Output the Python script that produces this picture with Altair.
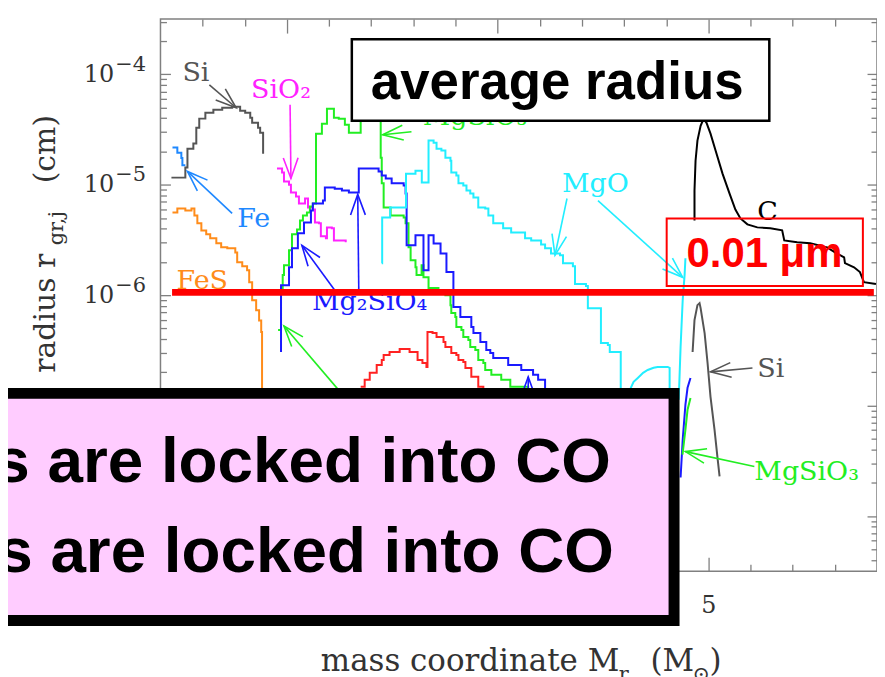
import math
import altair as alt
import pandas as pd

# ---------------- scale frame ----------------
X0, X1 = 2.4, 5.8
Y0, Y1 = 10 ** -8.5, 10 ** -3.5
W, H = 719, 554

GRAY, FEC, FESC, MAG = "#555555", "#1E88FF", "#FF8C1A", "#FF22FF"
GRN, BLU, CYA, RED, BLK = "#22EE22", "#1A1AFF", "#22EEFF", "#FF2222", "#000000"

# ---------------- step profiles (x: M_r [Msun], y: radius [cm]) ----------------
si_x = [2.452, 2.518, 2.528, 2.556, 2.570, 2.584, 2.613, 2.651, 2.693, 2.740, 2.778, 2.802, 2.826, 2.835, 2.863, 2.873, 2.887, 2.887]
si_y = [1.16e-5, 1.43e-5, 2.12e-5, 2.36e-5, 3.28e-5, 3.97e-5, 4.49e-5, 4.78e-5, 4.98e-5, 5.08e-5, 4.68e-5, 4.49e-5, 4.04e-5, 3.64e-5, 3.28e-5, 2.96e-5, 2.78e-5, 1.91e-5]

fe_x = [2.457, 2.480, 2.499, 2.504, 2.518]
fe_y = [2.17e-5, 1.95e-5, 1.75e-5, 1.50e-5, 1.50e-5]

fes_x = [2.457, 2.480, 2.518, 2.547, 2.561, 2.575, 2.594, 2.617, 2.636, 2.665, 2.688, 2.717, 2.755, 2.764, 2.788, 2.811, 2.821, 2.835, 2.854, 2.868, 2.878, 2.882, 2.882]
fes_y = [5.61e-6, 6.09e-6, 5.85e-6, 6.09e-6, 5.27e-6, 4.47e-6, 3.86e-6, 3.56e-6, 3.27e-6, 2.95e-6, 2.71e-6, 2.66e-6, 2.44e-6, 1.99e-6, 1.83e-6, 1.68e-6, 1.31e-6, 9.0e-7, 7.3e-7, 5.9e-7, 4.63e-7, 3.54e-7, 7.4e-8]

sio2_x = [2.953, 2.977, 2.986, 3.010, 3.019, 3.043, 3.057, 3.086, 3.100, 3.123, 3.133, 3.152, 3.161, 3.185, 3.190, 3.213, 3.223, 3.279]
sio2_y = [1.40e-5, 1.29e-5, 1.07e-5, 1.00e-5, 8.5e-6, 7.83e-6, 6.76e-6, 7.50e-6, 6.22e-6, 5.97e-6, 4.56e-6, 4.47e-6, 3.41e-6, 3.27e-6, 4.11e-6, 4.03e-6, 3.13e-6, 3.01e-6]

mgsio3_x = [2.958, 2.972, 2.980, 2.986, 3.010, 3.024, 3.048, 3.062, 3.076, 3.095, 3.109, 3.123, 3.138, 3.166, 3.190,
            3.223, 3.246, 3.275, 3.294, 3.350, 3.398, 3.445, 3.450, 3.459, 3.492, 3.554, 3.563, 3.577, 3.587, 3.610,
            3.615, 3.639, 3.648, 3.672, 3.719, 3.752, 3.776, 3.780, 3.799, 3.804, 3.828, 3.837, 3.861, 3.870, 3.894,
            3.908, 3.932, 3.941, 3.970, 4.017, 4.060, 4.145, 4.200]
mgsio3_y = [4.83e-7, 1.10e-6, 1.52e-6, 1.87e-6, 2.55e-6, 3.56e-6, 3.94e-6, 4.75e-6, 5.27e-6, 5.61e-6, 6.35e-6, 6.76e-6, 2.90e-5, 3.56e-5, 4.88e-5,
            4.04e-5, 3.96e-5, 3.49e-5, 2.96e-5, 5.3e-5, 5.75e-5, 1.76e-5, 1.03e-5, 6.22e-6, 5.27e-6, 5.06e-6, 4.47e-6, 2.71e-6, 2.07e-6, 1.79e-6,
            1.52e-6, 1.87e-6, 1.45e-6, 1.16e-6, 1.04e-6, 1.00e-6, 8.12e-7, 6.89e-7, 6.33e-7, 5.14e-7, 4.83e-7, 4.18e-7, 3.93e-7, 3.40e-7, 3.19e-7,
            2.59e-7, 2.43e-7, 2.10e-7, 1.90e-7, 1.71e-7, 1.48e-7, 1.25e-7, 1.2e-7]

al_x = [3.350, 3.369, 3.393, 3.426, 3.450, 3.459, 3.487, 3.535, 3.582, 3.620, 3.643, 3.662, 3.667, 3.691, 3.710, 3.743, 3.752, 3.780, 3.804, 3.814, 3.837, 3.847, 3.875, 3.908, 3.932]
al_y = [1.48e-7, 1.71e-7, 1.98e-7, 2.33e-7, 2.59e-7, 2.87e-7, 3.06e-7, 3.26e-7, 3.06e-7, 2.59e-7, 2.43e-7, 2.24e-7, 4.63e-7, 4.54e-7, 4.18e-7, 3.77e-7, 3.40e-7, 3.00e-7, 2.87e-7, 2.59e-7, 2.48e-7, 2.19e-7, 1.82e-7, 1.48e-7, 1.1e-7]

mg2_x = [2.972, 2.972, 3.010, 3.024, 3.052, 3.081, 3.114, 3.123, 3.171, 3.180, 3.227, 3.261, 3.294, 3.341, 3.435,
         3.450, 3.469, 3.497, 3.554, 3.563, 3.568, 3.610, 3.648, 3.672, 3.696, 3.729, 3.757, 3.790, 3.823, 3.875,
         3.885, 3.918, 3.946, 3.965, 3.979, 4.050, 4.112, 4.168, 4.192, 4.225, 4.225]
mg2_y = [3.06e-7, 1.23e-6, 1.79e-6, 2.66e-6, 3.63e-6, 4.56e-6, 5.85e-6, 6.76e-6, 7.19e-6, 9.44e-6, 9.2e-6, 8.87e-6, 8.51e-6, 1.40e-5, 1.32e-5,
         1.21e-5, 1.14e-5, 1.03e-5, 9.84e-6, 8.34e-6, 2.83e-6, 3.48e-6, 1.68e-6, 3.48e-6, 2.94e-6, 2.39e-6, 1.62e-6, 7.80e-7, 6.33e-7, 5.14e-7,
         4.54e-7, 3.77e-7, 3.19e-7, 3.00e-7, 2.70e-7, 2.33e-7, 2.10e-7, 1.90e-7, 1.71e-7, 1.25e-7, 8e-8]

mgo_x = [3.450, 3.452, 3.490, 3.565, 3.610, 3.640, 3.672, 3.696, 3.710, 3.733, 3.752, 3.776, 3.780, 3.804, 3.814,
         3.837, 3.852, 3.870, 3.885, 3.908, 3.941, 3.956, 3.979, 4.026, 4.064, 4.130, 4.159, 4.206, 4.225, 4.253,
         4.296, 4.310, 4.357, 4.367, 4.419, 4.428, 4.490, 4.523, 4.532, 4.584]
mgo_y = [1.95e-6, 5.06e-6, 6.22e-6, 1.26e-5, 1.34e-5, 1.05e-5, 2.51e-5, 2.40e-5, 2.12e-5, 2.04e-5, 1.76e-5, 1.65e-5, 1.29e-5, 1.21e-5, 1.03e-5,
         9.84e-6, 8.87e-6, 8.34e-6, 7.66e-6, 6.22e-6, 6.09e-6, 5.27e-6, 4.47e-6, 4.03e-6, 3.70e-6, 3.27e-6, 3.13e-6, 2.88e-6, 2.66e-6, 2.39e-6,
         2.30e-6, 1.95e-6, 1.83e-6, 1.26e-6, 1.21e-6, 7.63e-7, 3.69e-7, 3.54e-7, 3.06e-7, 3e-8]

# ---------------- smooth profiles ----------------
c_x = [4.934, 4.934, 4.939, 4.948, 4.963, 4.977, 4.991, 5.010, 5.034, 5.067, 5.100, 5.128, 5.152, 5.185, 5.232,
       5.294, 5.350, 5.360, 5.421, 5.483, 5.563, 5.601, 5.644, 5.648, 5.691, 5.719, 5.738, 5.795]
c_y = [4.75e-6, 8.87e-6, 1.65e-5, 2.51e-5, 3.42e-5, 3.96e-5, 3.64e-5, 2.90e-5, 2.04e-5, 1.26e-5, 8.34e-6, 5.97e-6, 4.95e-6, 4.38e-6, 4.11e-6,
       4.03e-6, 3.86e-6, 3.13e-6, 3.01e-6, 2.95e-6, 2.71e-6, 2.44e-6, 2.20e-6, 1.95e-6, 1.79e-6, 1.62e-6, 1.31e-6, 1.26e-6]

si2_x = [4.925, 4.934, 4.948, 4.958, 4.963, 4.982, 4.996, 5.010, 5.029, 5.043, 5.053]
si2_y = [3.06e-7, 5.94e-7, 8.12e-7, 8.47e-7, 7.63e-7, 4.54e-7, 2.43e-7, 1.2e-7, 6.05e-8, 3.4e-8, 2.28e-8]

mgoa_x = [4.625, 4.632, 4.645, 4.665, 4.690, 4.712, 4.740, 4.759, 4.807, 4.816, 4.816]
mgoa_y = [9e-8, 1.45e-7, 1.64e-7, 1.78e-7, 1.98e-7, 2.10e-7, 2.20e-7, 2.24e-7, 2.24e-7, 2.20e-7, 9e-8]

mgor_x = [4.859, 4.863, 4.868, 4.878, 4.887, 4.891]
mgor_y = [1.13e-7, 1.82e-7, 3.40e-7, 9.01e-7, 1.52e-6, 2.16e-6]

mg2r_x = [4.868, 4.878, 4.891, 4.901, 4.915]
mg2r_y = [2.23e-8, 4.91e-8, 1.02e-7, 1.45e-7, 1.78e-7]

mgsio3r_x = [4.877, 4.891, 4.901, 4.915]
mgsio3r_y = [3.60e-8, 6.05e-8, 9.16e-8, 1.17e-7]

# ---------------- arrows (tail -> head) ----------------
arr_tx = [2.632, 3.015, 2.740, 3.227, 3.341, 3.591, 4.329, 4.476, 3.265, 4.145, 5.209, 5.218]
arr_ty = [8.02e-5, 5.30e-5, 5.50e-6, 1.11e-6, 1.11e-6, 3.02e-5, 7.50e-6, 7.19e-6, 1.25e-7, 1.13e-7, 2.19e-7, 2.81e-8]
arr_hx = [2.759, 3.019, 2.528, 3.071, 3.336, 3.454, 4.272, 4.878, 2.986, 4.145, 5.010, 4.891]
arr_hy = [4.98e-5, 1.14e-5, 1.32e-5, 2.83e-6, 8.17e-6, 2.84e-5, 2.30e-6, 1.45e-6, 5.25e-7, 1.82e-7, 2.02e-7, 3.83e-8]
arr_col = [GRAY, MAG, FEC, BLU, BLU, GRN, CYA, CYA, GRN, BLU, GRAY, GRN]

# ---------------- species labels ----------------
lab_t = ["Si", "SiO₂", "Fe", "FeS", "MgSiO₃", "Mg₂SiO₄", "MgO", "C", "Si", "MgSiO₃"]
lab_x = [2.504, 2.830, 2.764, 2.476, 3.644, 3.119, 4.305, 5.232, 5.232, 5.218]
lab_y = [8.71e-5, 6.12e-5, 4.11e-6, 1.13e-6, 3.49e-5, 7.33e-7, 8.51e-6, 4.75e-6, 1.82e-7, 2.14e-8]
lab_col = [GRAY, MAG, FEC, FESC, GRN, BLU, CYA, BLK, GRAY, GRN]

# ---------------- axis ticks / labels ----------------
x_major = [3, 4, 5]
x_labeled = [5]
x_minor = [2.6, 2.8, 3.2, 3.4, 3.6, 3.8, 4.2, 4.4, 4.6, 4.8, 5.2, 5.4, 5.6]
y_exps = [-6, -5, -4]
y_exp_labels = ["−6", "−5", "−4"]
y_major = [1e-8, 1e-7, 1e-6, 1e-5, 1e-4]
y_labeled = [10.0 ** e for e in y_exps]
y_minor = [k * 10.0 ** e for e in range(-9, -3) for k in range(2, 10) if Y0 < k * 10.0 ** e < Y1]

# ---------------- helpers ----------------
xs = alt.Scale(domain=[X0, X1], nice=False, zero=False)
ys = alt.Scale(type="log", domain=[Y0, Y1], nice=False)


def X(f="x", axis=None):
    return alt.X(f + ":Q", scale=xs, axis=axis)


def Y(f="y", axis=None):
    return alt.Y(f + ":Q", scale=ys, axis=axis)


def sx(v):
    return (v - X0) / (X1 - X0) * W


def sy(v):
    return (math.log10(Y1) - math.log10(v)) / (math.log10(Y1) - math.log10(Y0)) * H


def series_df(series):
    rows = []
    for name, col, xv, yv in series:
        for i, (a, b) in enumerate(zip(xv, yv)):
            rows.append({"series": name, "col": col, "idx": i, "x": a, "y": b})
    return pd.DataFrame(rows)


step_df = series_df([
    ("Si", GRAY, si_x, si_y), ("Fe", FEC, fe_x, fe_y), ("FeS", FESC, fes_x, fes_y),
    ("SiO2", MAG, sio2_x, sio2_y), ("MgSiO3", GRN, mgsio3_x, mgsio3_y), ("Al2O3", RED, al_x, al_y),
    ("Mg2SiO4", BLU, mg2_x, mg2_y), ("MgO", CYA, mgo_x, mgo_y),
])
lin_df = series_df([
    ("C", BLK, c_x, c_y), ("Si2", GRAY, si2_x, si2_y), ("MgOa", CYA, mgoa_x, mgoa_y),
    ("MgOr", CYA, mgor_x, mgor_y), ("Mg2r", BLU, mg2r_x, mg2r_y), ("MgSiO3r", GRN, mgsio3r_x, mgsio3r_y),
])

arr_df = pd.DataFrame({"tx": arr_tx, "ty": arr_ty, "hx": arr_hx, "hy": arr_hy, "col": arr_col})
arr_df["ang"] = [math.degrees(math.atan2(sy(hy) - sy(ty), sx(hx) - sx(tx))) % 360
                 for tx, ty, hx, hy in zip(arr_tx, arr_ty, arr_hx, arr_hy)]
lab_df = pd.DataFrame({"t": lab_t, "x": lab_x, "y": lab_y, "col": lab_col})

# ---------------- axes via invisible carrier layers ----------------
carrier = pd.DataFrame({"x": [3.0], "y": [1e-6]})
TICK = dict(labels=False, domain=False, grid=False, title=None, tickColor="#808080", tickWidth=1.3)
LAB = dict(ticks=False, tickSize=0, domain=False, grid=False, title=None, labelFont="DejaVu Serif",
           labelColor="#333333", labelOverlap=False)

exp_expr = "".join(f"datum.value < {3 * 10.0 ** e:.3e} ? '{l}' : " for e, l in zip(y_exps[:-1], y_exp_labels[:-1])) + f"'{y_exp_labels[-1]}'"


def carrier_layer(xaxis, yaxis):
    return alt.Chart(carrier).mark_point(opacity=0).encode(x=X(axis=xaxis), y=Y(axis=yaxis))


carriers = [
    carrier_layer(alt.Axis(orient="bottom", values=x_labeled, format="d", labelFontSize=24, labelPadding=22, **LAB),
                  alt.Axis(orient="left", values=y_labeled, labelExpr="'10'", labelFontSize=24, labelPadding=47, **LAB)),
    carrier_layer(None,
                  alt.Axis(orient="left", values=y_labeled, labelExpr=exp_expr, labelFontSize=21, labelPadding=15,
                           labelOffset=-10, **LAB)),
    carrier_layer(alt.Axis(orient="top", offset=-H, values=x_major, tickSize=14, **TICK),
                  alt.Axis(orient="right", offset=-W, values=y_major, tickSize=10, **TICK)),
    carrier_layer(alt.Axis(orient="top", offset=-H, values=x_minor, tickSize=7, **TICK),
                  alt.Axis(orient="right", offset=-W, values=y_minor, tickSize=6, **TICK)),
    carrier_layer(alt.Axis(orient="bottom", offset=-H, values=x_major, tickSize=14, **TICK),
                  alt.Axis(orient="left", offset=-W, values=y_major, tickSize=10, **TICK)),
    carrier_layer(alt.Axis(orient="bottom", offset=-H, values=x_minor, tickSize=7, **TICK),
                  alt.Axis(orient="left", offset=-W, values=y_minor, tickSize=6, **TICK)),
]

# ---------------- data layers ----------------
steps = alt.Chart(step_df).mark_line(interpolate="step-after", strokeWidth=2).encode(
    x=X(), y=Y(), color=alt.Color("col:N", scale=None), detail="series:N", order="idx:Q")
lines = alt.Chart(lin_df).mark_line(strokeWidth=2).encode(
    x=X(), y=Y(), color=alt.Color("col:N", scale=None), detail="series:N", order="idx:Q")

shafts = alt.Chart(arr_df).mark_rule(strokeWidth=1.6).encode(
    x=X("tx"), y=Y("ty"), x2="hx:Q", y2="hy:Q", color=alt.Color("col:N", scale=None))
heads = alt.Chart(arr_df).mark_point(shape="M -1 -0.36 L 0 0 L -1 0.36", filled=False, size=1700,
                                     strokeWidth=1.6, opacity=1).encode(
    x=X("hx"), y=Y("hy"), angle=alt.Angle("ang:Q", scale=None), color=alt.Color("col:N", scale=None))

labels = alt.Chart(lab_df).mark_text(font="DejaVu Serif", fontSize=27, align="left", baseline="alphabetic").encode(
    x=X(), y=Y(), text="t:N", color=alt.Color("col:N", scale=None))

# ---------------- annotations ----------------
red_line = alt.Chart(pd.DataFrame({"x": [2.455], "x2": [5.785], "y": [1.06e-6]})).mark_rule(
    color="#FF0000", strokeWidth=7).encode(x=X(), x2="x2:Q", y=Y())

avg_box = alt.Chart(pd.DataFrame({"x": [3.308], "x2": [5.289], "y": [2.08e-4], "y2": [3.79e-5]})).mark_rect(
    fill="white", stroke="black", strokeWidth=2.5).encode(x=X(), x2="x2:Q", y=Y(), y2="y2:Q")
avg_txt = alt.Chart(pd.DataFrame({"x": [3.398], "y": [6.0e-5], "t": ["average radius"]})).mark_text(
    font="Liberation Sans", fontWeight="bold", fontSize=53, align="left", baseline="alphabetic", color="black").encode(
    x=X(), y=Y(), text="t:N")

red_box = alt.Chart(pd.DataFrame({"x": [4.802], "x2": [5.733], "y": [4.95e-6], "y2": [1.21e-6]})).mark_rect(
    fill="transparent", stroke="#FF0000", strokeWidth=2).encode(x=X(), x2="x2:Q", y=Y(), y2="y2:Q")
red_txt = alt.Chart(pd.DataFrame({"x": [4.896], "y": [1.79e-6], "t": ["0.01 μm"]})).mark_text(
    font="Liberation Sans", fontWeight="bold", fontSize=42, align="left", baseline="alphabetic", color="#FF0000").encode(
    x=X(), y=Y(), text="t:N")

pink_box = alt.Chart(pd.DataFrame({"x": [1.497], "x2": [4.837], "y": [1.29e-7], "y2": [1.13e-9]})).mark_rect(
    fill="#FFCCFF", stroke="black", strokeWidth=11).encode(x=X(), x2="x2:Q", y=Y(), y2="y2:Q")
pink_txt = alt.Chart(pd.DataFrame({"x": [4.537, 4.551], "y": [2.05e-8, 3.10e-9],
                                   "t": ["s are locked into CO", "s are locked into CO"]})).mark_text(
    font="Liberation Sans", fontWeight="bold", fontSize=64, align="right", baseline="alphabetic", color="black").encode(
    x=X(), y=Y(), text="t:N")

# axis titles (with subscripts)
yt = alt.Chart(pd.DataFrame({"x": [1.899, 1.937, 1.899], "y": [1.98e-7, 2.83e-6, 1.03e-5],
                             "t": ["radius r", "gr,j", "(cm)"], "s": [30, 21, 30]})).mark_text(
    font="DejaVu Serif", angle=270, align="left", baseline="alphabetic", color="#333333").encode(
    x=X(), y=Y(), text="t:N", size=alt.Size("s:Q", scale=None))
xt = alt.Chart(pd.DataFrame({"x": [3.161, 4.575, 4.725, 4.925, 5.005],
                             "y": [3.95e-10, 3.21e-10, 3.95e-10, 3.21e-10, 3.95e-10],
                             "t": ["mass coordinate M", "r", "(M", "⊙", ")"], "s": [31, 21, 31, 21, 31]})).mark_text(
    font="DejaVu Serif", align="left", baseline="alphabetic", color="#333333").encode(
    x=X(), y=Y(), text="t:N", size=alt.Size("s:Q", scale=None))

chart = alt.layer(
    *carriers, steps, lines, shafts, heads, labels, red_line, avg_box, avg_txt,
    red_box, red_txt, pink_box, pink_txt, yt, xt
).resolve_axis(x="independent", y="independent").properties(
    width=W, height=H, autosize="none",
    padding={"left": 153, "top": 10, "right": 0, "bottom": 105},
).configure_view(stroke="#808080", strokeWidth=1.5)

chart.save("out.html", embed_options={"renderer": "svg", "actions": False})
